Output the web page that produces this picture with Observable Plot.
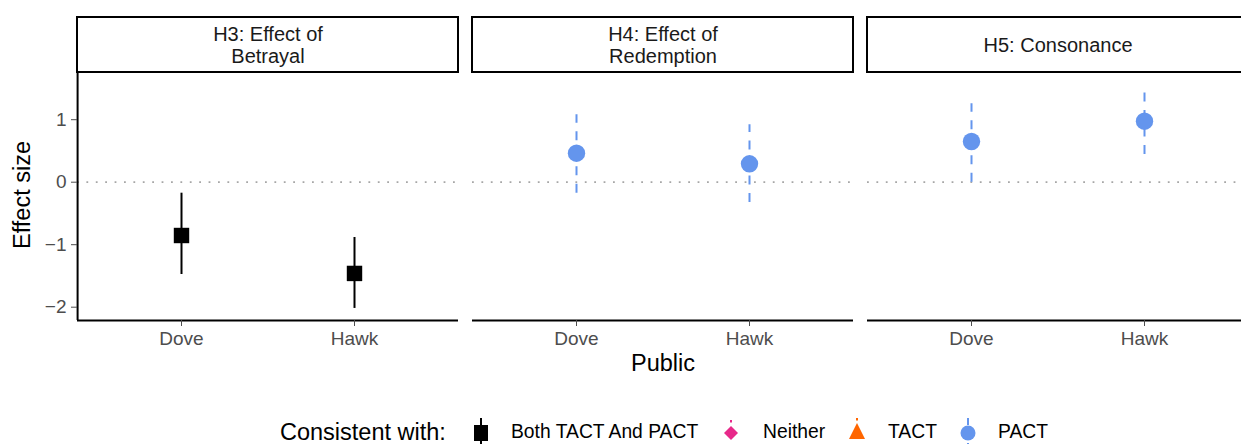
<!DOCTYPE html>
<html>
<head>
<meta charset="utf-8">
<script src="https://cdn.jsdelivr.net/npm/d3@7"></script>
<script src="https://cdn.jsdelivr.net/npm/@observablehq/plot@0.6"></script>
<style>
  html, body { margin: 0; padding: 0; background: white; overflow: hidden; }
  #wrap { position: relative; width: 1241px; height: 444px; overflow: hidden; font-family: "Liberation Sans", Arial, Helvetica, sans-serif; }
  #chart { position: absolute; left: 0; top: 0; width: 1248px; }
  .title { position: absolute; white-space: nowrap; line-height: 1; color: #000; }
  .leg { position: absolute; white-space: nowrap; line-height: 1.05; color: #000; }
  .key { position: absolute; }
</style>
</head>
<body>
<div id="wrap">
  <div id="chart"></div>
  <div class="title" id="ytitle" style="left:23px; top:195px; font-size:23.5px; transform: translate(-50%,-50%) rotate(-90deg);">Effect size</div>
  <div class="title" id="xtitle" style="left:663px; top:364px; font-size:23.5px; transform: translate(-50%,-50%);">Public</div>
  <div id="legend"></div>
</div>
<script>
// ---- data ----
const panels = ["H3: Effect of\nBetrayal", "H4: Effect of\nRedemption", "H5: Consonance"];
const publics = ["Dove", "Hawk"];
const rowPanel = [panels[0], panels[0], panels[1], panels[1], panels[2], panels[2]];
const rowPublic = ["Dove", "Hawk", "Dove", "Hawk", "Dove", "Hawk"];
const estimate = [-0.853, -1.46, 0.464, 0.294, 0.651, 0.976];
const lower = [-1.477, -2.02, -0.176, -0.325, 0.0, 0.443];
const upper = [-0.176, -0.885, 1.078, 0.918, 1.254, 1.483];
const consistent = ["Both TACT And PACT", "Both TACT And PACT", "PACT", "PACT", "PACT", "PACT"];
const categories = ["Both TACT And PACT", "Neither", "TACT", "PACT"];
const catColors = ["#000000", "#E7298A", "#FF6600", "#6495ED"];
const catSymbols = ["square", "diamond2", "triangle", "circle"];
const yTicks = [-2, -1, 0, 1];
const yDomain = [-2.213, 1.739];
const stripTop = 2.635, stripBottom = 1.755;

const rows = estimate.map((e, i) => ({
  panel: rowPanel[i], public: rowPublic[i], estimate: e,
  lower: lower[i], upper: upper[i], consistent: consistent[i]
}));

const panelW = 381, gap = 14;
const xPad = 0.6;

const chart = Plot.plot({
  width: 1248,
  height: 400,
  marginLeft: 77,
  marginRight: 0,
  marginTop: 73,
  marginBottom: 80,
  style: { fontFamily: "'Liberation Sans', Arial, Helvetica, sans-serif", fontSize: "19px", background: "white", overflow: "visible", maxWidth: "none" },
  fx: { domain: panels, paddingInner: gap / (panelW + gap), paddingOuter: 0, axis: null, label: null },
  x: { type: "point", domain: publics, padding: xPad, label: null },
  y: { domain: yDomain, label: null },
  color: { domain: categories, range: catColors },
  symbol: { domain: categories, range: catSymbols },
  marks: [
    // strip boxes
    Plot.rect(panels, { fx: d => d, y1: stripTop, y2: stripBottom, fill: "white", stroke: "black", strokeWidth: 2 }),
    Plot.text(panels, { fx: d => d, y: (stripTop + stripBottom) / 2, text: d => d, fontSize: 20, fill: "#1a1a1a", lineHeight: 1.1, lineAnchor: "middle" }),
    // zero reference line
    Plot.ruleY([0], { stroke: "#a6a6a6", strokeWidth: 1.8, strokeDasharray: "1.8,7.6" }),
    // axis lines
    Plot.ruleY([yDomain[0]], { stroke: "black", strokeWidth: 2 }),
    Plot.ruleX([panels[0]], { fx: d => d, x: () => publics[0], dx: -panelW * xPad / (1 + 2 * xPad), y1: yDomain[0], y2: yDomain[1], stroke: "black", strokeWidth: 2 }),
    // axes
    Plot.axisX({ tickSize: 6, tickPadding: 5, fontSize: 19, color: "#4D4D4D", label: null }),
    Plot.axisY({ ticks: yTicks, tickFormat: d => (d < 0 ? "\u2212" + Math.abs(d) : String(d)), tickSize: 6, tickPadding: 5, fontSize: 19, color: "#4D4D4D", label: null }),
    // error bars
    Plot.ruleX(rows.filter(d => d.consistent === "Both TACT And PACT"), { fx: "panel", x: "public", y1: "lower", y2: "upper", stroke: "consistent", strokeWidth: 2 }),
    Plot.ruleX(rows.filter(d => d.consistent === "PACT"), { fx: "panel", x: "public", y1: "lower", y2: "upper", stroke: "consistent", strokeWidth: 2, strokeDasharray: "9,8.5" }),
    // points
    Plot.dot(rows, { fx: "panel", x: "public", y: "estimate", symbol: "consistent", fill: "consistent", r: 8.7 })
  ]
});
document.getElementById("chart").appendChild(chart);

// ---- legend ----
const legY = 431.5;
const legend = document.getElementById("legend");
const legTitle = document.createElement("div");
legTitle.className = "leg";
legTitle.textContent = "Consistent with:";
legTitle.style.cssText = `left:280px; top:${legY}px; font-size:23.5px; transform: translateY(-50%);`;
legend.appendChild(legTitle);

const keyX = [481, 731, 857, 968];
const labelX = [511, 763, 888, 998];
categories.forEach((c, i) => {
  const svg = d3.create("svg").attr("class", "key").attr("width", 30).attr("height", 32)
    .style("left", (keyX[i] - 15) + "px").style("top", (433 - 16) + "px");
  const col = catColors[i];
  if (c === "Both TACT And PACT") {
    svg.append("line").attr("x1", 15).attr("x2", 15).attr("y1", 1).attr("y2", 32).attr("stroke", col).attr("stroke-width", 2);
    svg.append("rect").attr("x", 8).attr("y", 8).attr("width", 14).attr("height", 16).attr("fill", col);
  } else if (c === "Neither") {
    svg.append("rect").attr("x", 14).attr("y", 3).attr("width", 2).attr("height", 2.5).attr("fill", col);
    svg.append("path").attr("d", "M15,9 L22,16 L15,23 L8,16 Z").attr("fill", col);
  } else if (c === "TACT") {
    svg.append("rect").attr("x", 14).attr("y", 1).attr("width", 2).attr("height", 2.5).attr("fill", col);
    svg.append("path").attr("d", "M15,6 L23,22 L7,22 Z").attr("fill", col);
  } else {
    svg.append("line").attr("x1", 15).attr("x2", 15).attr("y1", 1).attr("y2", 32).attr("stroke", col).attr("stroke-width", 2).attr("stroke-dasharray", "7,18");
    svg.append("circle").attr("cx", 15).attr("cy", 16).attr("r", 7.5).attr("fill", col);
  }
  legend.appendChild(svg.node());
  const lab = document.createElement("div");
  lab.className = "leg";
  lab.textContent = c;
  lab.style.cssText = `left:${labelX[i]}px; top:${legY}px; font-size:19.3px; transform: translateY(-50%);`;
  legend.appendChild(lab);
});
</script>
</body>
</html>
